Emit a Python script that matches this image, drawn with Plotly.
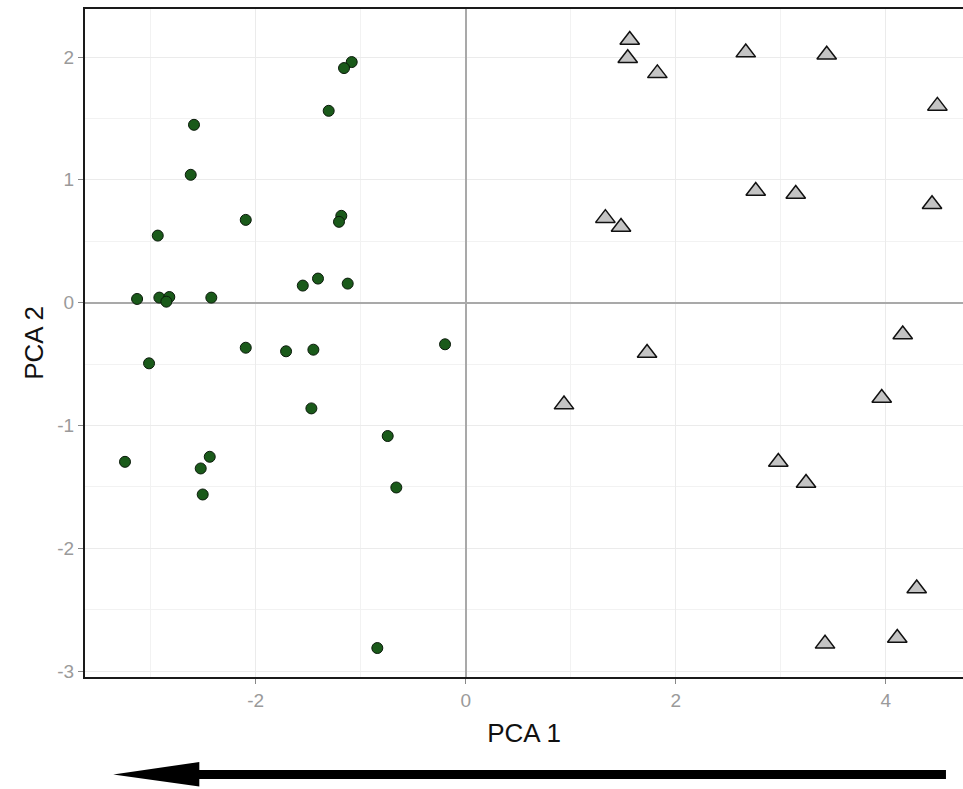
import plotly.graph_objects as go

# Group 1 (green circles)
g1_x = [-1.086, -1.159, -1.305, -2.588, -2.619, -2.095, -1.185, -1.207, -2.933, -3.130,
        -2.918, -2.823, -2.851, -2.423, -1.552, -1.407, -1.124, -0.197, -3.016, -2.095,
        -1.711, -1.451, -1.470, -0.743, -3.245, -2.438, -2.524, -2.505, -0.661, -0.842]
g1_y = [1.959, 1.910, 1.562, 1.448, 1.041, 0.674, 0.707, 0.658, 0.546, 0.030,
        0.041, 0.046, 0.008, 0.041, 0.139, 0.196, 0.155, -0.339, -0.494, -0.367,
        -0.396, -0.383, -0.861, -1.086, -1.296, -1.255, -1.350, -1.562, -1.505, -2.812]

# Group 2 (grey triangles)
g2_x = [1.562, 1.543, 1.825, 2.667, 3.438, 4.492, 2.762, 3.143, 4.441, 1.330,
        1.479, 4.162, 1.727, 0.936, 3.962, 2.977, 3.241, 4.295, 4.110, 3.422]
g2_y = [2.138, 1.990, 1.867, 2.036, 2.019, 1.602, 0.909, 0.884, 0.801, 0.688,
        0.616, -0.259, -0.410, -0.830, -0.777, -1.297, -1.469, -2.328, -2.731, -2.778]

x_ticks = [-2, 0, 2, 4]
y_ticks = [-3, -2, -1, 0, 1, 2]

fig = go.Figure()
fig.add_trace(go.Scatter(
    x=g1_x, y=g1_y, mode="markers",
    marker=dict(symbol="circle", size=11, color="#1a5a1a",
                line=dict(color="#0a1a0a", width=1)),
    showlegend=False))
fig.add_trace(go.Scatter(
    x=g2_x, y=g2_y, mode="markers",
    marker=dict(symbol="triangle-up", size=17, color="#c4c4c4",
                line=dict(color="#111111", width=1.5)),
    showlegend=False))

font_fam = "Liberation Sans, Arial, sans-serif"
fig.update_xaxes(
    range=[-3.626, 4.736], tickvals=x_ticks, ticktext=[str(v) for v in x_ticks],
    showgrid=True, gridcolor="#ebebeb", gridwidth=1,
    minor=dict(tickvals=[-3, -1, 1, 3], showgrid=True, gridcolor="#f2f2f2", gridwidth=1, ticks=""),
    zeroline=True, zerolinecolor="#a9a9a9", zerolinewidth=1.5,
    showline=True, linecolor="#1a1a1a", linewidth=2, mirror=True,
    ticks="outside", ticklen=5, tickcolor="#888888", tickwidth=1,
    tickfont=dict(family=font_fam, size=19, color="#9a9a9a"),
    title=dict(text="PCA 1", font=dict(family=font_fam, size=26, color="#111111"), standoff=14),
)
fig.update_yaxes(
    range=[-3.048, 2.391], tickvals=y_ticks, ticktext=[str(v) for v in y_ticks],
    showgrid=True, gridcolor="#ebebeb", gridwidth=1,
    minor=dict(tickvals=[-2.5, -1.5, -0.5, 0.5, 1.5], showgrid=True, gridcolor="#f2f2f2", gridwidth=1, ticks=""),
    zeroline=True, zerolinecolor="#a9a9a9", zerolinewidth=1.5,
    showline=True, linecolor="#1a1a1a", linewidth=2, mirror=False,
    ticks="outside", ticklen=5, tickcolor="#888888", tickwidth=1,
    tickfont=dict(family=font_fam, size=19, color="#9a9a9a"),
    title=dict(text="PCA 2", font=dict(family=font_fam, size=26, color="#111111"), standoff=6),
)

# arrow below the plot (paper coordinates)
fig.add_shape(type="line", xref="paper", yref="paper",
              x0=0.12, x1=0.9806, y0=-0.1458, y1=-0.1458,
              line=dict(color="black", width=9))
fig.add_shape(type="path", xref="paper", yref="paper",
              path="M 0.0322 -0.1458 L 0.1302 -0.1274 L 0.1302 -0.1638 Z",
              fillcolor="black", line=dict(color="black", width=0))

fig.update_layout(
    width=963, height=789,
    margin=dict(l=85, r=0, t=9, b=112),
    plot_bgcolor="white", paper_bgcolor="white",
)

fig.write_html("out.html", config={"displayModeBar": False},
               post_script="document.body.style.margin='0';")
